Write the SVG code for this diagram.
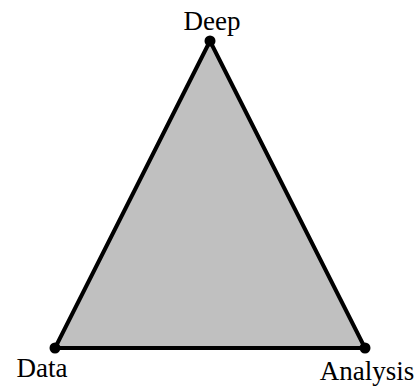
<svg xmlns="http://www.w3.org/2000/svg" width="420" height="389" viewBox="0 0 420 389">
<style>
.lbl{font-family:"Liberation Serif","DejaVu Serif",serif;font-size:27px;fill:#000}
.dot{fill:#000}
</style>
<rect width="420" height="389" fill="#fff"/>
<g id="connectors">
<polygon points="210,41 55,348 365,348" fill="#c0c0c0" stroke="#000" stroke-width="4" stroke-linejoin="miter"/>
</g>
<g id="deep"><circle class="dot" cx="210" cy="41" r="5.5"/><text class="lbl" x="212" y="30" text-anchor="middle">Deep</text></g>
<g id="data"><circle class="dot" cx="55" cy="348" r="5.5"/><text class="lbl" x="42" y="377" text-anchor="middle">Data</text></g>
<g id="analysis"><circle class="dot" cx="365" cy="348" r="5.5"/><text class="lbl" x="367" y="380" text-anchor="middle">Analysis</text></g>
</svg>
